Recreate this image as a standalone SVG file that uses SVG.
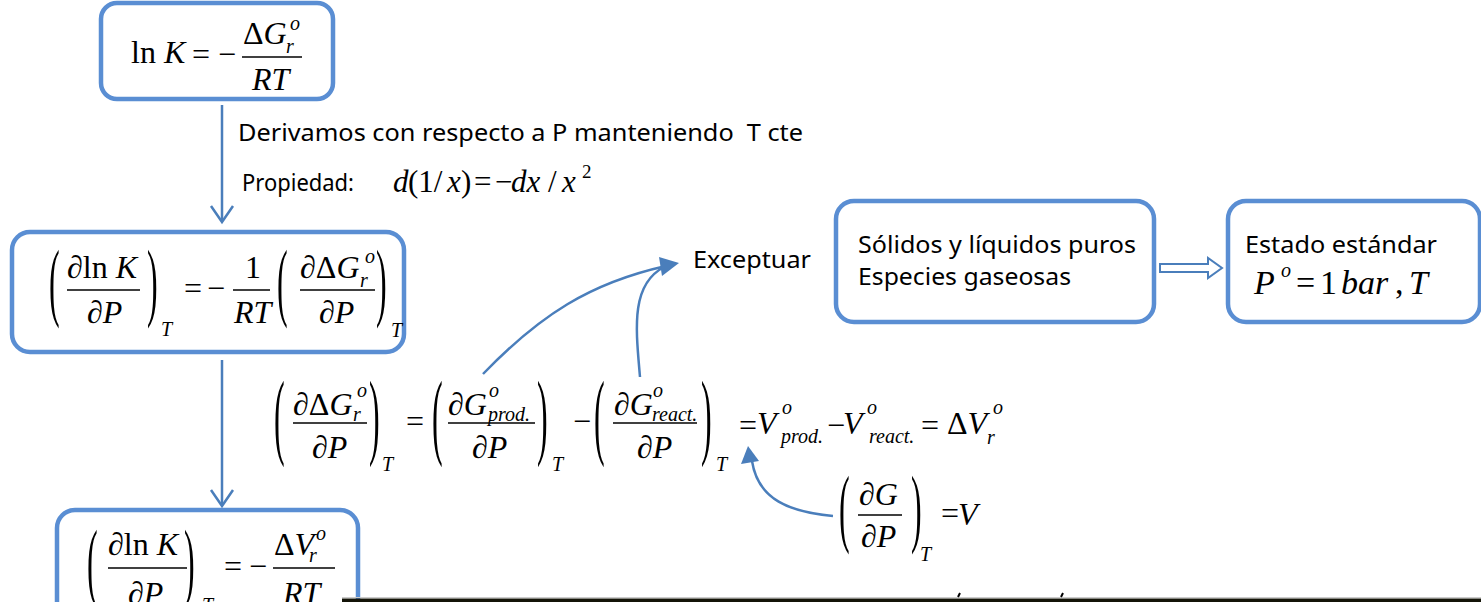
<svg xmlns="http://www.w3.org/2000/svg" width="1481" height="602" viewBox="0 0 1481 602">
<defs>
<style>
.box{fill:#fff;stroke:#5A8ED3;stroke-width:4.5}
.con{fill:none;stroke:#4A7EBB;stroke-width:2.5}
.head{fill:#4A7EBB;stroke:none}
.t{font-family:"Noto Sans","Open Sans",sans-serif;font-size:24px;fill:#000}
.m{font-family:"Liberation Serif","Times New Roman",serif;font-size:32px;fill:#000}
.i{font-style:italic}
.s{font-family:"Liberation Serif","Times New Roman",serif;font-size:20px;font-style:italic;fill:#000}
.p{font-family:"Liberation Serif","Times New Roman",serif;font-size:32px;fill:#000}
.fl{stroke:#000;stroke-width:1.5}
</style>
</defs>
<rect width="1481" height="602" fill="#fff"/>

<g id="connectors">
<path class="con" d="M222,105 V221"/>
<path class="con" d="M211,206 L222,222 L233,206"/>
<path class="con" d="M222,360 V505"/>
<path class="con" d="M211,490 L222,506 L233,490"/>
<path class="con" d="M483,374 C540,315 590,283 666,266"/>
<path class="con" d="M640,377 C636,330 630,285 664,267"/>
<polygon class="head" points="679,263 659,257 662,276"/>
<path class="con" d="M833,516 C790,512 758,500 752,461"/>
<polygon class="head" points="748,446 741,464 759,461"/>
<path d="M1160,264 H1208 V258 L1222,268 L1208,278 V272 H1160 Z" fill="#fff" stroke="#4A7EBB" stroke-width="2"/>
</g>

<g id="node1">
<rect class="box" x="101" y="3" width="232" height="96" rx="16"/>
<text class="m" x="131" y="63">ln <tspan class="i">K</tspan></text>
<text class="m" x="192" y="65">=</text>
<text class="m" x="218" y="65">−</text>
<line class="fl" x1="242" y1="57" x2="302" y2="57"/>
<text class="m" x="243" y="44">Δ<tspan class="i">G</tspan></text>
<text class="s" x="290" y="30">o</text>
<text class="s" x="286" y="53">r</text>
<text class="m i" x="252" y="90">RT</text>
</g>

<g id="labels">
<text class="t" x="238" y="141" style="white-space:pre" textLength="565" lengthAdjust="spacingAndGlyphs">Derivamos con respecto a P manteniendo  T cte</text>
<text class="t" x="242" y="191" textLength="112" lengthAdjust="spacingAndGlyphs">Propiedad:</text>
<g class="m" style="font-size:31px">
<text class="i" x="393" y="192">d</text>
<text x="408" y="192">(1/</text>
<text class="i" x="447" y="192">x</text>
<text x="461" y="192">)</text>
<text x="474" y="192">=</text>
<text x="495" y="192">−</text>
<text class="i" x="511" y="192">dx</text>
<text x="548" y="192">/</text>
<text class="i" x="562" y="192">x</text>
</g>
<text class="m" x="582" y="178" style="font-size:19px">2</text>
<text class="t" x="693" y="268" textLength="118" lengthAdjust="spacingAndGlyphs">Exceptuar</text>
</g>

<g id="node2">
<rect class="box" x="12" y="232" width="392" height="120" rx="18"/>
<text class="p" transform="translate(49,310) scale(1,2.7)">(</text>
<text class="m" x="67" y="278">∂ln <tspan class="i">K</tspan></text>
<line class="fl" x1="67" y1="290" x2="140" y2="290"/>
<text class="m" x="87" y="323">∂<tspan class="i">P</tspan></text>
<text class="p" transform="translate(147,310) scale(1,2.7)">)</text>
<text class="s" x="161" y="336">T</text>
<text class="m" x="184" y="299">=</text>
<text class="m" x="207" y="299">−</text>
<text class="m" x="245" y="278">1</text>
<line class="fl" x1="233" y1="290" x2="270" y2="290"/>
<text class="m i" x="234" y="323">RT</text>
<text class="p" transform="translate(277,310) scale(1,2.7)">(</text>
<text class="m" x="300" y="278">∂Δ<tspan class="i">G</tspan></text>
<text class="s" x="365" y="263">o</text>
<text class="s" x="360" y="287">r</text>
<line class="fl" x1="300" y1="290" x2="375" y2="290"/>
<text class="m" x="319" y="323">∂<tspan class="i">P</tspan></text>
<text class="p" transform="translate(376,310) scale(1,2.7)">)</text>
<text class="s" x="391" y="337">T</text>
</g>

<g id="equation">
<text class="p" transform="translate(274,447) scale(1,3.0)">(</text>
<text class="m" x="293" y="415">∂Δ<tspan class="i">G</tspan></text>
<text class="s" x="357" y="397">o</text>
<text class="s" x="353" y="421">r</text>
<line class="fl" x1="293" y1="423" x2="367" y2="423"/>
<text class="m" x="312" y="458">∂<tspan class="i">P</tspan></text>
<text class="p" transform="translate(369,447) scale(1,3.0)">)</text>
<text class="s" x="382" y="471">T</text>
<text class="m" x="406" y="432">=</text>
<text class="p" transform="translate(432,447) scale(1,3.0)">(</text>
<text class="m" x="448" y="415">∂<tspan class="i">G</tspan></text>
<text class="s" x="489" y="397">o</text>
<text class="s" x="488" y="421">prod.</text>
<line class="fl" x1="448" y1="423" x2="535" y2="423"/>
<text class="m" x="472" y="458">∂<tspan class="i">P</tspan></text>
<text class="p" transform="translate(537,447) scale(1,3.0)">)</text>
<text class="s" x="552" y="471">T</text>
<text class="m" x="573" y="432">−</text>
<text class="p" transform="translate(594,447) scale(1,3.0)">(</text>
<text class="m" x="614" y="415">∂<tspan class="i">G</tspan></text>
<text class="s" x="653" y="397">o</text>
<text class="s" x="652" y="421">react.</text>
<line class="fl" x1="613" y1="423" x2="697" y2="423"/>
<text class="m" x="637" y="458">∂<tspan class="i">P</tspan></text>
<text class="p" transform="translate(701,447) scale(1,3.0)">)</text>
<text class="s" x="716" y="471">T</text>
<text class="m" x="739" y="436">=</text>
<text class="m i" x="757" y="434">V</text>
<text class="s" x="782" y="414">o</text>
<text class="s" x="781" y="443">prod.</text>
<text class="m" x="827" y="436">−</text>
<text class="m i" x="843" y="434">V</text>
<text class="s" x="867" y="414">o</text>
<text class="s" x="869" y="443">react.</text>
<text class="m" x="921" y="436">=</text>
<text class="m" x="947" y="434">Δ<tspan class="i">V</tspan></text>
<text class="s" x="993" y="414">o</text>
<text class="s" x="987" y="444">r</text>
</g>

<g id="dGdP">
<text class="p" transform="translate(839,536) scale(1,2.7)">(</text>
<text class="m" x="859" y="505">∂<tspan class="i">G</tspan></text>
<line class="fl" x1="858" y1="515" x2="902" y2="515"/>
<text class="m" x="861" y="547">∂<tspan class="i">P</tspan></text>
<text class="p" transform="translate(911,536) scale(1,2.7)">)</text>
<text class="s" x="920" y="561">T</text>
<text class="m" x="941" y="524">=</text>
<text class="m i" x="958" y="525">V</text>
</g>

<g id="node3">
<rect class="box" x="57" y="510" width="301" height="130" rx="18"/>
<text class="p" transform="translate(87,590) scale(1,2.7)">(</text>
<text class="m" x="108" y="555">∂ln <tspan class="i">K</tspan></text>
<line class="fl" x1="108" y1="568" x2="187" y2="568"/>
<text class="m" x="128" y="604">∂<tspan class="i">P</tspan></text>
<text class="p" transform="translate(184,590) scale(1,2.7)">)</text>
<text class="s" x="202" y="612">T</text>
<text class="m" x="224" y="577">=</text>
<text class="m" x="249" y="577">−</text>
<text class="m" x="274" y="555">Δ<tspan class="i">V</tspan></text>
<text class="s" x="316" y="540">o</text>
<text class="s" x="309" y="562">r</text>
<line class="fl" x1="273" y1="568" x2="335" y2="568"/>
<text class="m i" x="283" y="604">RT</text>
</g>

<g id="node4">
<rect class="box" x="836" y="201" width="318" height="121" rx="18"/>
<text class="t" x="858" y="253" textLength="278" lengthAdjust="spacingAndGlyphs">Sólidos y líquidos puros</text>
<text class="t" x="858" y="285" textLength="213" lengthAdjust="spacingAndGlyphs">Especies gaseosas</text>
</g>

<g id="node5">
<rect class="box" x="1228" y="201" width="252" height="121" rx="18"/>
<text class="t" x="1245" y="253" textLength="192" lengthAdjust="spacingAndGlyphs">Estado estándar</text>
<g class="m" style="font-size:34px">
<text class="i" x="1254" y="294">P</text>
<text x="1296" y="294">=</text>
<text x="1320" y="294">1</text>
<text class="i" x="1341" y="294">bar</text>
<text x="1395" y="294">,</text>
<text class="i" x="1409" y="294">T</text>
</g>
<text class="s" x="1281" y="277">o</text>
</g>

<g id="bottom">
<rect x="342" y="597" width="1139" height="1" fill="#ccc"/>
<rect x="342" y="598.5" width="1139" height="3.5" fill="#141408"/>
<path d="M958,597 L960,593 M1061,597 L1063,593" stroke="#000" stroke-width="2"/>
</g>
</svg>
